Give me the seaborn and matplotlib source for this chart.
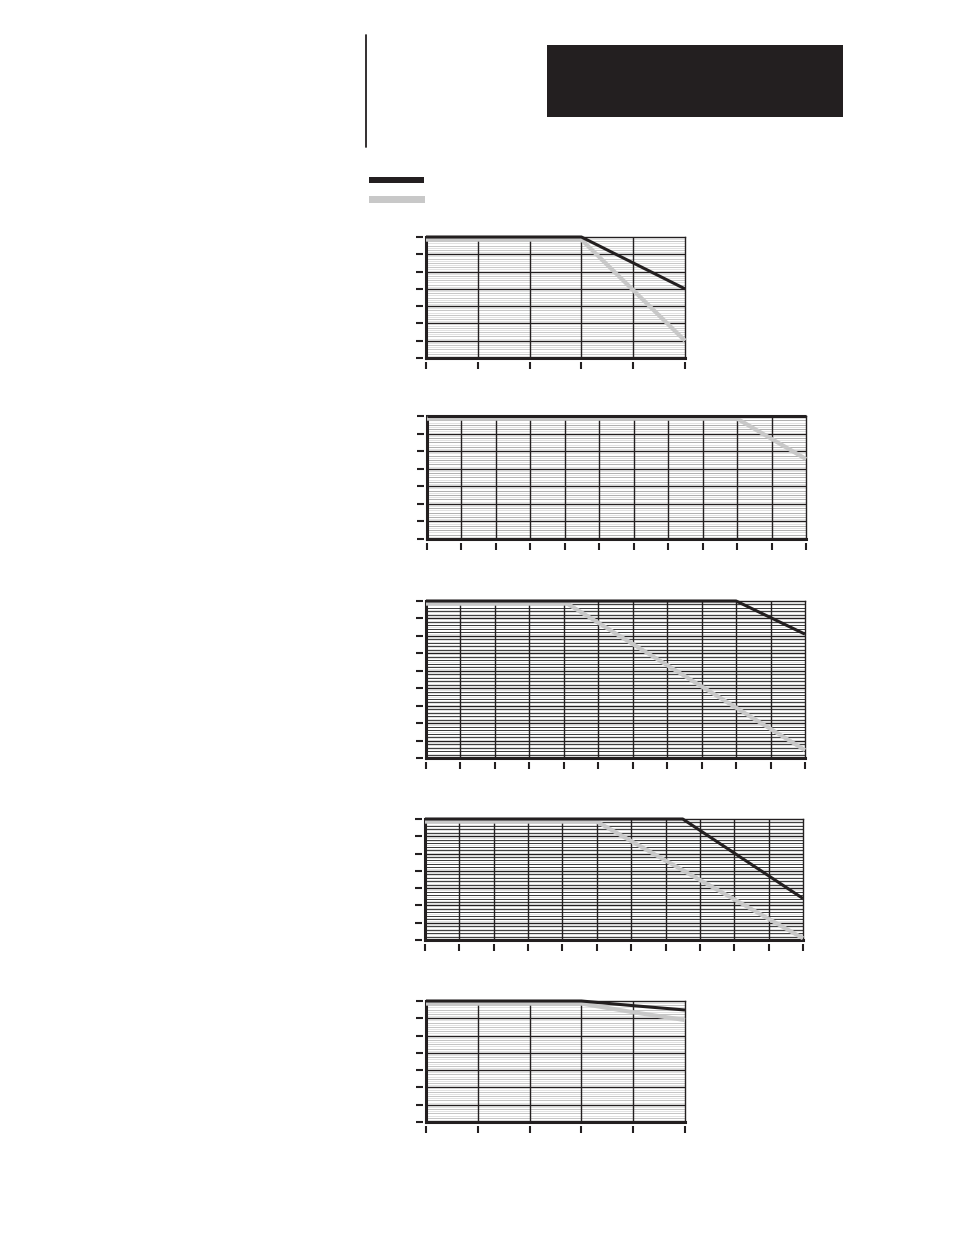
import numpy as np
import pandas as pd
import matplotlib
matplotlib.use("Agg")
import matplotlib.pyplot as plt
from matplotlib.patches import Rectangle
from matplotlib.lines import Line2D
import seaborn as sns

sns.set_style("white")
plt.rcParams['font.family'] = ['DejaVu Sans']

W, H = 954, 1235

# ---- data (x in grid units, y in grid units) ----
c1_black_x = [0, 3, 5];        c1_black_y = [7, 7, 4]
c1_gray_x = [0, 3, 5];         c1_gray_y = [6.85, 6.85, 1.0]

c2_black_x = [0, 11];          c2_black_y = [7, 7]
c2_gray_x = [0, 9, 11];        c2_gray_y = [6.85, 6.85, 4.55]

c3_black_x = [0, 9, 11];       c3_black_y = [9, 9, 7.1]
c3_gray_x = [0, 4.1, 11];      c3_gray_y = [8.85, 8.85, 0.45]

c4_black_x = [0, 7.5, 11];     c4_black_y = [7, 7, 2.4]
c4_gray_x = [0, 5, 11];        c4_gray_y = [6.85, 6.85, 0.1]

c5_black_x = [0, 3, 4, 5];     c5_black_y = [7, 7, 6.73, 6.48]
c5_gray_x = [0, 3, 4, 5];      c5_gray_y = [6.85, 6.85, 6.35, 5.9]

charts = [
    dict(box=(426, 685, 237, 358), xmax=5, ymax=7, bx=c1_black_x, by=c1_black_y,
         gx=c1_gray_x, gy=c1_gray_y, minor='#c4c4c4', step=0.25),
    dict(box=(427, 806, 416, 539), xmax=11, ymax=7, bx=c2_black_x, by=c2_black_y,
         gx=c2_gray_x, gy=c2_gray_y, minor='#a8a8a8', step=0.25),
    dict(box=(426, 805, 601, 758), xmax=11, ymax=9, bx=c3_black_x, by=c3_black_y,
         gx=c3_gray_x, gy=c3_gray_y, minor='#1e1e1e', step=0.2),
    dict(box=(425, 803, 819, 940), xmax=11, ymax=7, bx=c4_black_x, by=c4_black_y,
         gx=c4_gray_x, gy=c4_gray_y, minor='#1e1e1e', step=0.2),
    dict(box=(426, 685, 1001, 1122), xmax=5, ymax=7, bx=c5_black_x, by=c5_black_y,
         gx=c5_gray_x, gy=c5_gray_y, minor='#c0c0c0', step=0.25),
]

BLACK = '#231f20'
GRAY = '#c8c8c8'

fig = plt.figure(figsize=(W / 100, H / 100), dpi=100)

# page decorations
fig.add_artist(Line2D([366 / W, 366 / W], [1 - 35 / H, 1 - 147 / H], color=BLACK, lw=1.3,
                      transform=fig.transFigure))
fig.add_artist(Rectangle((547 / W, 1 - 117 / H), (843 - 547) / W, 72 / H,
                         transform=fig.transFigure, color=BLACK, lw=0))
fig.add_artist(Rectangle((369 / W, 1 - 183 / H), 55 / W, 6 / H,
                         transform=fig.transFigure, color=BLACK, lw=0))
fig.add_artist(Rectangle((369 / W, 1 - 203 / H), 56 / W, 7 / H,
                         transform=fig.transFigure, color=GRAY, lw=0))

for c in charts:
    l, r, t, b = c['box']
    ax = fig.add_axes([l / W, 1 - b / H, (r - l) / W, (b - t) / H])
    xmax, ymax = c['xmax'], c['ymax']

    # fine horizontal grid
    fine = np.arange(0.125, ymax, 0.125)
    ax.hlines(fine, 0, xmax, colors='#e2e2e2', lw=0.7, zorder=0.5)
    mid = np.arange(c['step'], ymax, c['step'])
    ax.hlines(mid, 0, xmax, colors=c['minor'], lw=0.6, zorder=0.6)
    # major grid
    ax.hlines(np.arange(1, ymax), 0, xmax, colors=BLACK, lw=1.0, zorder=0.8)
    ax.vlines(np.arange(1, xmax), 0, ymax, colors=BLACK, lw=1.0, zorder=0.8)

    df = pd.DataFrame({
        'x': list(c['gx']) + list(c['bx']),
        'y': list(c['gy']) + list(c['by']),
        's': ['gray'] * len(c['gx']) + ['black'] * len(c['bx']),
    })
    sns.lineplot(data=df, x='x', y='y', hue='s', hue_order=['gray', 'black'],
                 palette={'gray': GRAY, 'black': BLACK}, sort=False, legend=False,
                 ax=ax, linewidth=2.2, estimator=None)
    for ln in ax.lines:
        ln.set_clip_on(False)
        ln.set_zorder(3)
        ln.set_solid_capstyle('butt')
        ln.set_alpha(1)
    ax.lines[0].set_linewidth(3.0)
    ax.lines[-1].set_zorder(4)

    ax.set_xlim(0, xmax)
    ax.set_ylim(0, ymax)
    ax.set_xlabel('')
    ax.set_ylabel('')
    ax.set_xticks([])
    ax.set_yticks([])
    for s in ['left', 'bottom']:
        ax.spines[s].set_linewidth(2.2)
        ax.spines[s].set_color(BLACK)
    for s in ['top', 'right']:
        ax.spines[s].set_linewidth(1.0)
        ax.spines[s].set_color(BLACK)

    # detached tick marks
    hpx = b - t
    wpx = r - l
    sx = ax.secondary_xaxis(-4 / hpx)
    sx.set_xticks(range(xmax + 1))
    sx.set_xticklabels([])
    sx.tick_params(length=5, width=1.5, color=BLACK, direction='out')
    sx.spines['bottom'].set_visible(False)
    sy = ax.secondary_yaxis(-3 / wpx)
    sy.set_yticks(range(ymax + 1))
    sy.set_yticklabels([])
    sy.tick_params(length=5, width=1.5, color=BLACK, direction='out')
    sy.spines['left'].set_visible(False)

fig.savefig('out.png', dpi=100)
